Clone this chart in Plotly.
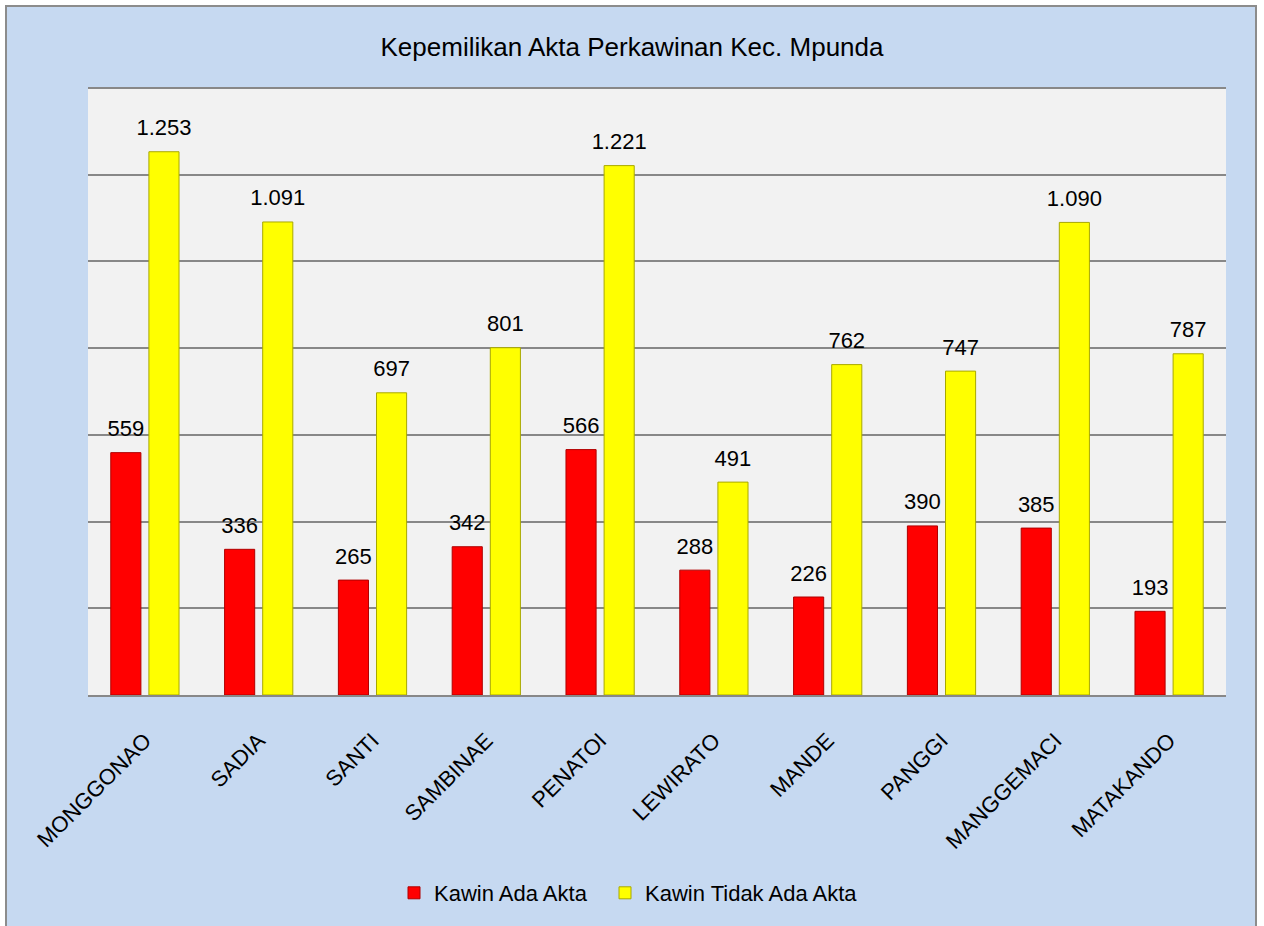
import plotly.graph_objects as go

# Kepemilikan akta perkawinan per desa/kelurahan, Kec. Mpunda
desa = ["MONGGONAO", "SADIA", "SANTI", "SAMBINAE", "PENATOI",
        "LEWIRATO", "MANDE", "PANGGI", "MANGGEMACI", "MATAKANDO"]
kawin_ada_akta = [559, 336, 265, 342, 566, 288, 226, 390, 385, 193]
kawin_tidak_ada_akta = [1253, 1091, 697, 801, 1221, 491, 762, 747, 1090, 787]

FONT = "Liberation Sans, Arial, sans-serif"
BG_BLUE = "#C6D9F1"
PLOT_GRAY = "#F2F2F2"
FRAME = "#8C8C8C"
GAP = 0.33

L, R, T, B = 88, 38, 88, 231
W, H = 1264, 926

series = [
    ("Kawin Ada Akta", kawin_ada_akta, "#FF0000", "#B00000", "g1", "legend", 394),
    ("Kawin Tidak Ada Akta", kawin_tidak_ada_akta, "#FFFF00", "#A8A800", "g2", "legend2", 605),
]

fig = go.Figure()
for name, vals, fill, edge, grp, leg, _ in series:
    fig.add_trace(go.Bar(
        name=name, x=desa, y=vals, offsetgroup=grp, legend=leg,
        marker=dict(color=fill, line=dict(color=edge, width=1)),
    ))
# value labels, grouped alongside the bars and lifted above each bar top
for name, vals, fill, edge, grp, leg, _ in series:
    fig.add_trace(go.Scatter(
        x=desa, y=vals, offsetgroup=grp, mode="markers+text",
        text=[f"{v:,}".replace(",", ".") for v in vals],
        textposition="top center",
        textfont=dict(size=22, color="#000000", family=FONT),
        marker=dict(size=16, color="rgba(0,0,0,0)"),
        showlegend=False, hoverinfo="skip", cliponaxis=False,
    ))

# page frame: white page, blue chart area with grey border, grey plot area
pw, ph = W - L - R, H - T - B


def px_x(v):
    return (v - L) / pw


def px_y(v):
    return (H - B - v) / ph


fig.add_shape(type="rect", xref="paper", yref="paper", layer="below",
              x0=px_x(6), x1=px_x(1256), y0=px_y(940), y1=px_y(6),
              fillcolor=BG_BLUE, line=dict(color=FRAME, width=2))
fig.add_shape(type="rect", xref="paper", yref="paper", layer="below",
              x0=0, x1=1, y0=0, y1=1,
              fillcolor=PLOT_GRAY, line=dict(width=0))
fig.add_shape(type="line", xref="paper", yref="paper", x0=0, x1=1, y0=1, y1=1,
              line=dict(color="#888888", width=2))

legend_style = dict(orientation="h", xref="container", xanchor="left",
                    y=1 - 893 / H, yref="container", yanchor="middle",
                    font=dict(size=22, family=FONT, color="#000000"),
                    bgcolor="rgba(0,0,0,0)", itemwidth=30)

fig.update_layout(
    width=W, height=H,
    margin=dict(l=L, r=R, t=T, b=B),
    paper_bgcolor="#FFFFFF",
    plot_bgcolor="rgba(0,0,0,0)",
    separators=",.",
    font=dict(family=FONT, color="#000000"),
    barmode="group", bargap=GAP, bargroupgap=0.21,
    scattermode="group", scattergap=GAP,
    title=dict(text="Kepemilikan Akta Perkawinan Kec. Mpunda",
               x=0.5, xref="container", xanchor="center",
               y=1 - 47 / H, yref="container", yanchor="middle",
               font=dict(size=26, family=FONT, color="#000000")),
    legend=dict(x=series[0][6] / W, **legend_style),
    legend2=dict(x=series[1][6] / W, **legend_style),
    showlegend=True,
)
fig.update_xaxes(
    tickangle=-45, tickfont=dict(size=22, family=FONT, color="#000000"),
    showline=True, linecolor="#888888", linewidth=2,
    ticks="", ticklabelstandoff=22, showgrid=False,
)
fig.update_yaxes(
    range=[0, 1400], dtick=200, showticklabels=False,
    showgrid=True, gridcolor="#888888", gridwidth=2,
    zeroline=False, showline=False, ticks="",
)

fig.write_html("out.html")
